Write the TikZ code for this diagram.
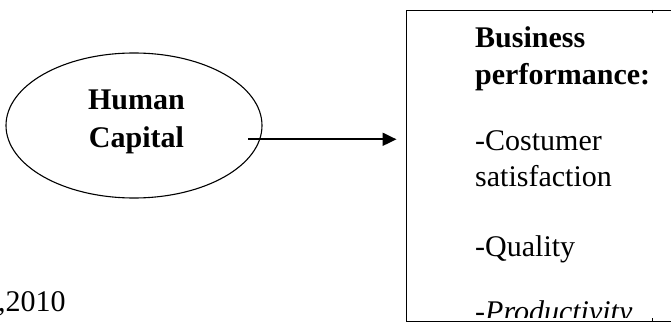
\documentclass[tikz,border=0pt]{standalone}
\usepackage{fontspec}
\setmainfont{Liberation Serif}
\usetikzlibrary{shapes.geometric,arrows.meta,calc}
\begin{document}
\begin{tikzpicture}[x=1pt,y=-1pt,
  txt/.style={inner sep=0pt,anchor=base west,font=\fontsize{30}{36}\selectfont},
  btxt/.style={txt,font=\fontsize{30}{36}\selectfont\bfseries},
  ctxt/.style={inner sep=0pt,anchor=base,font=\fontsize{30}{36}\selectfont\bfseries},
  oval/.style={draw,ellipse,line width=1.1pt,minimum width=256pt,minimum height=145pt,inner sep=0pt},
  panel/.style={draw,rectangle,line width=1pt,inner sep=0pt},
  link/.style={line width=2pt,-{Triangle[length=14pt,width=13pt]}}]
\useasboundingbox (0,0) rectangle (671,331);
\clip (0,0) rectangle (671,331);
\fill[white] (0,0) rectangle (671,331);
\node[oval] (hc) at (134,125.5) {};
\node[ctxt] (human) at (136.5,110) {Human};
\node[ctxt] (capital) at (136.5,148) {Capital};
\node[panel,anchor=north west,minimum width=300pt,minimum height=311pt] (box) at (405.5,10) {};
\draw[line width=0.8pt] (652,10) -- (652,13);
\draw[line width=0.8pt] (652,318) -- (652,321);
\coordinate (start) at (248,139.3);
\coordinate (tip) at ([xshift=-9pt]box.west |- start);
\draw[link] (start) -- (tip);
\node[btxt] (t1) at (475,47.3) {Business};
\node[btxt] (t2) at (475,85) {performance:};
\node[txt] (t3) at (475,151) {-Costumer};
\node[txt] (t4) at (475,186) {satisfaction};
\node[txt] (t5) at (475,256.7) {-Quality};
\begin{scope}
\clip (406,0) rectangle (671,317);
\node[txt] (t6) at (475,321.5) {-\textit{Productivity}};
\end{scope}
\node[txt] (src) at (-2,311.7) {,2010};
\end{tikzpicture}
\end{document}
